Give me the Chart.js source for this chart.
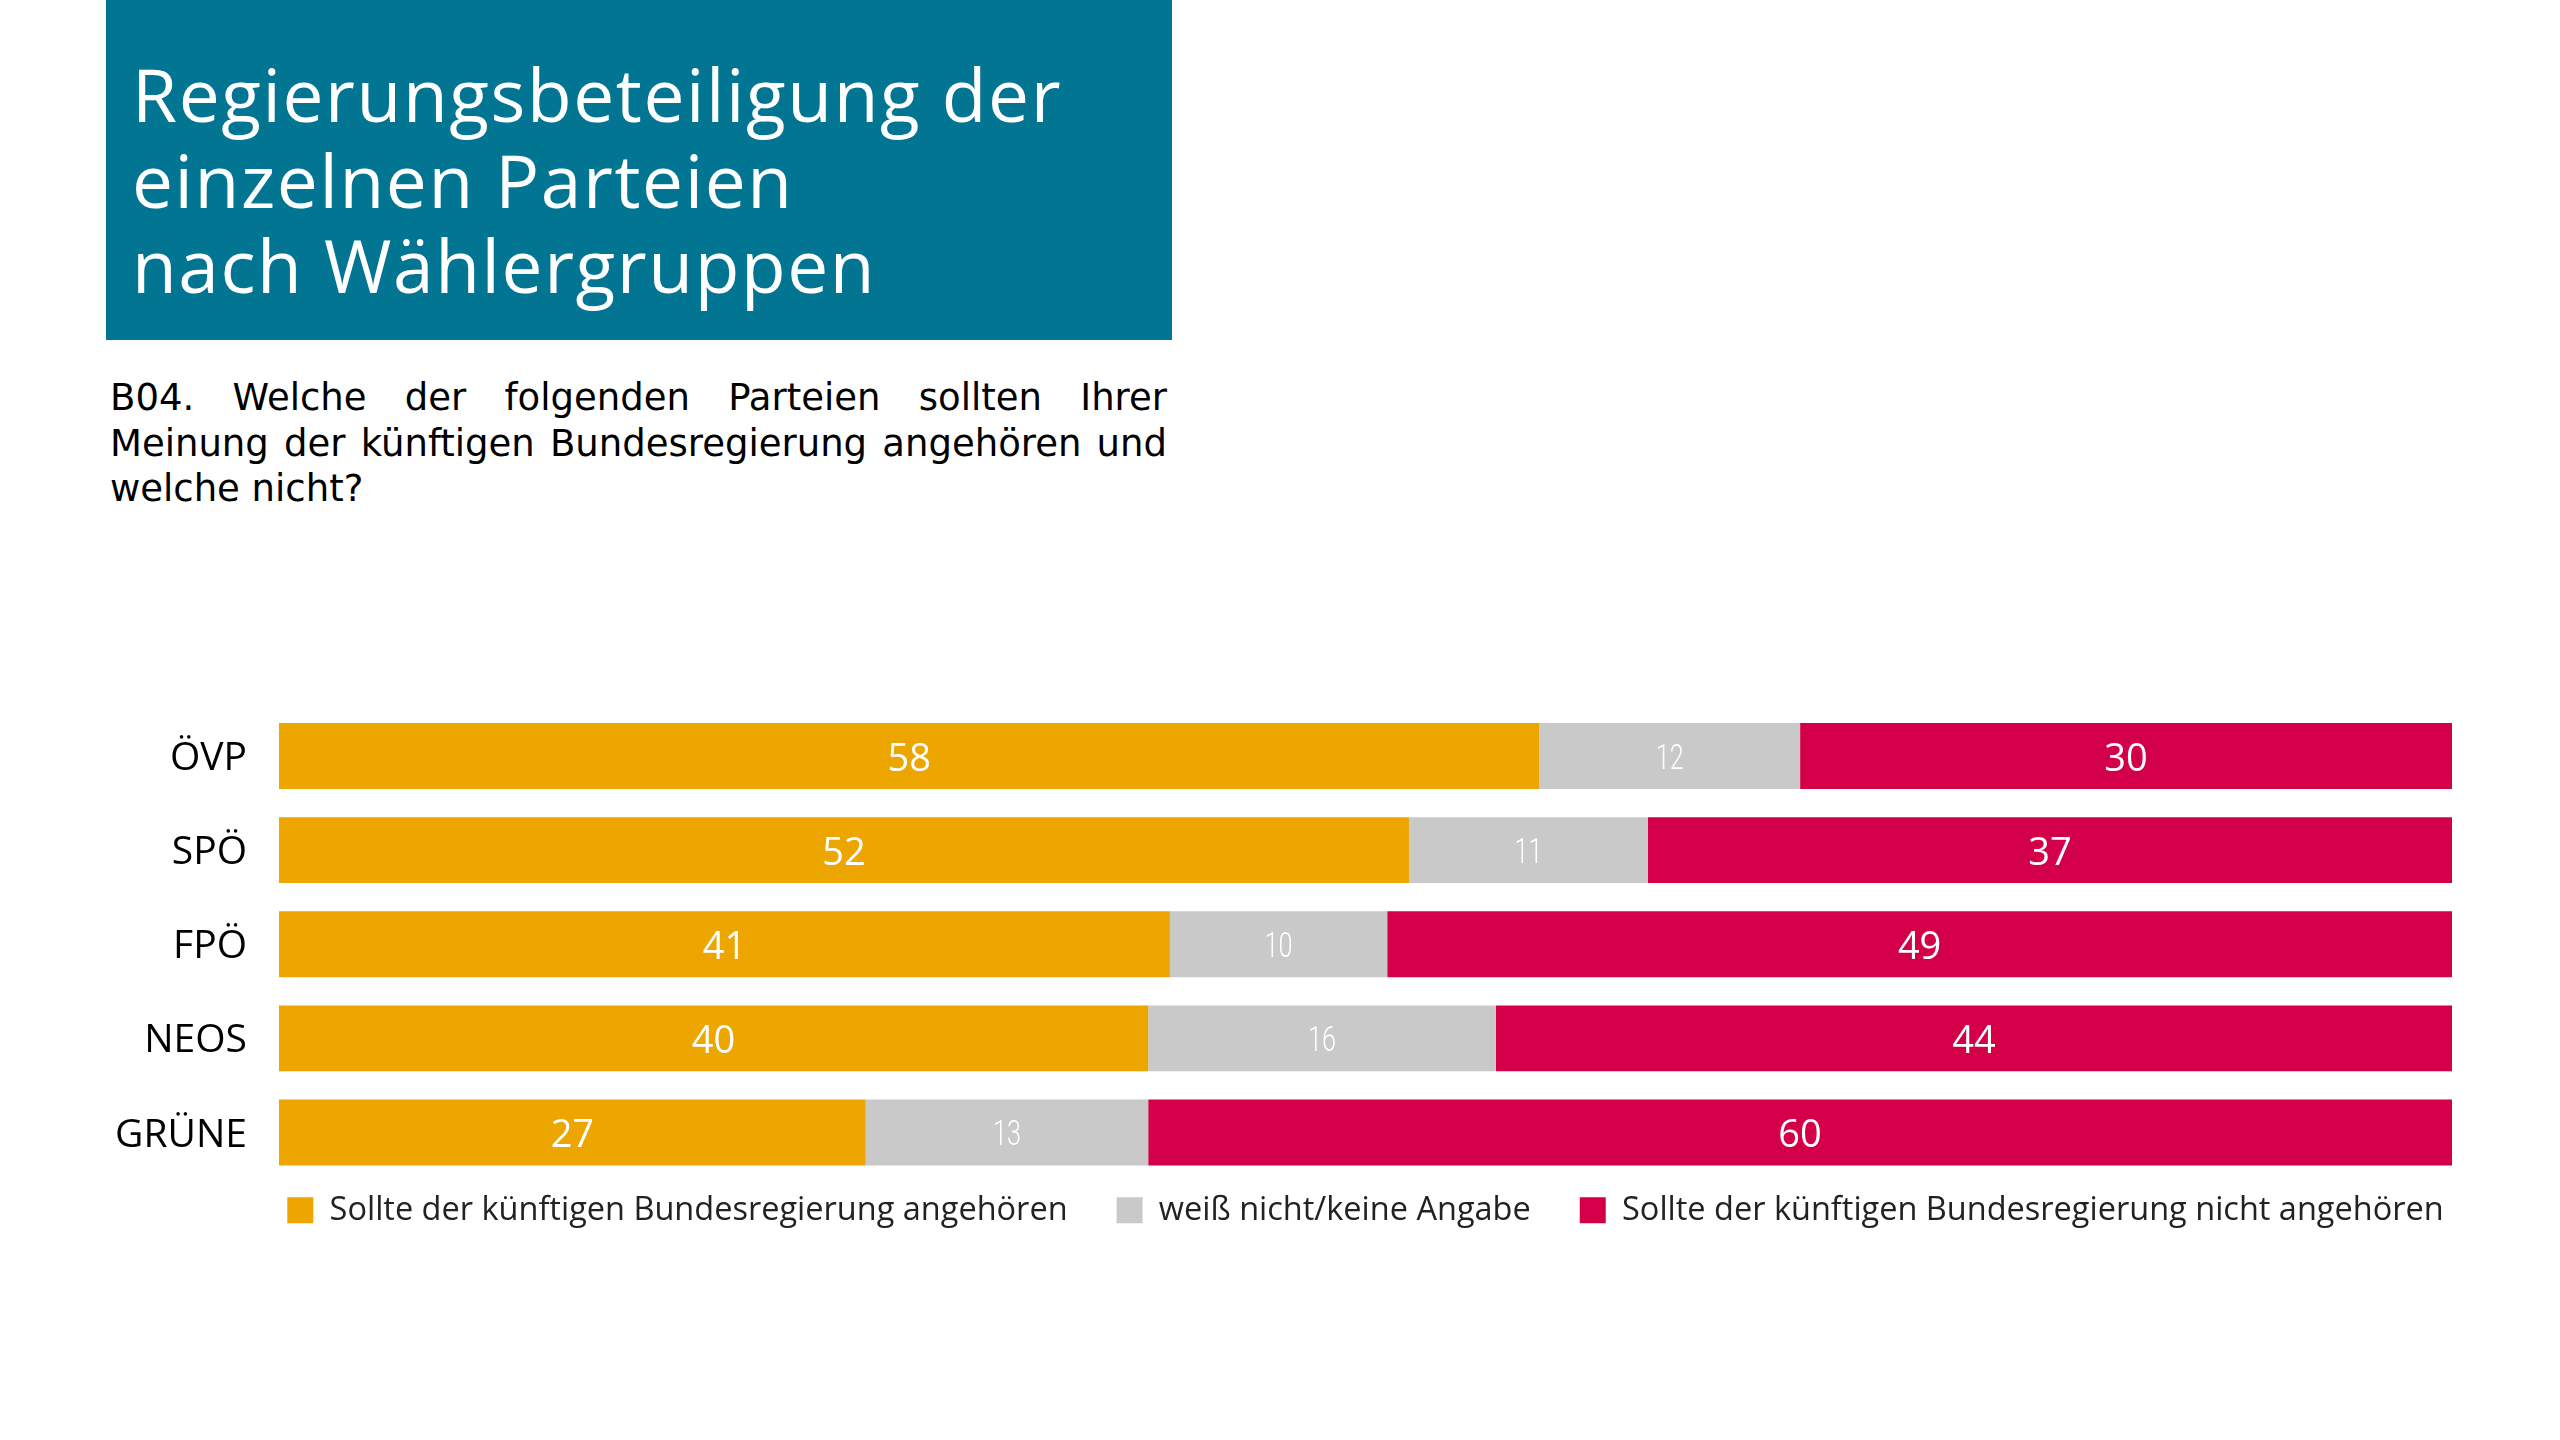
<!DOCTYPE html>
<html><head><meta charset="utf-8">
<script src="https://cdn.jsdelivr.net/npm/chart.js@4/dist/chart.umd.min.js"></script>
<style>
html,body{margin:0;padding:0;background:#fff;width:2560px;height:1440px;overflow:hidden;}
#titlebox{position:absolute;left:106px;top:0;width:1066px;height:340px;background:#017592;}
#title{position:absolute;left:132px;top:51px;color:#fff;font-family:'Open Sans',sans-serif;font-size:73px;line-height:85.5px;letter-spacing:1.6px;white-space:nowrap;}
#question{position:absolute;left:110px;top:375px;width:1057px;font-family:'DejaVu Sans',sans-serif;font-size:37px;line-height:45.5px;color:#000;}
.ql{text-align:justify;text-align-last:justify;white-space:nowrap;}
.ql.last{text-align-last:left;}
#wrap{position:absolute;left:0;top:0;width:2560px;height:1440px;}
</style>
</head><body>
<div id="titlebox"></div>
<div id="title">Regierungsbeteiligung der<br>einzelnen Parteien<br>nach Wählergruppen</div>
<div id="question"><div class="ql">B04. Welche der folgenden Parteien sollten Ihrer</div><div class="ql">Meinung der künftigen Bundesregierung angehören und</div><div class="ql last">welche nicht?</div></div>
<div id="wrap"><canvas id="c" width="2560" height="1440"></canvas></div>
<script>
const categories = ['ÖVP','SPÖ','FPÖ','NEOS','GRÜNE'];
const seriesNames = ['Sollte der künftigen Bundesregierung angehören','weiß nicht/keine Angabe','Sollte der künftigen Bundesregierung nicht angehören'];
const yesValues = [58,52,41,40,27];
const dontKnowValues = [12,11,10,16,13];
const noValues = [30,37,49,44,60];
const seriesColors = ['#EDA500','#C9C9C9','#D30049'];

const valueLabels = {
  id:'valueLabels',
  afterDatasetsDraw(chart){
    const ctx = chart.ctx;
    chart.data.datasets.forEach((ds,i)=>{
      const meta = chart.getDatasetMeta(i);
      meta.data.forEach((bar,j)=>{
        const v = ds.data[j];
        const x = (bar.x + bar.base)/2;
        ctx.save();
        ctx.fillStyle = '#ffffff';
        ctx.textAlign = 'center';
        ctx.textBaseline = 'middle';
        ctx.translate(x, bar.y + 4);
        if (i === 1) {
          ctx.font = '300 35px Roboto, "Open Sans"';
          ctx.scale(0.72, 1);
        } else {
          ctx.font = '400 38px "Open Sans"';
        }
        ctx.fillText(String(v), 0, 0);
        ctx.restore();
      });
    });
  }
};
const legendShift = {
  id:'legendShift',
  afterLayout(chart){
    const l = chart.legend, a = chart.chartArea;
    if (l){
      l.top -= 34.5; l.bottom -= 34.5;
      const dx = (a.left + a.right)/2 - (l.left + l.right)/2;
      l.left += dx; l.right += dx;
    }
  }
};

new Chart(document.getElementById('c'), {
  type:'bar',
  data:{
    labels: categories,
    datasets:[
      {label:seriesNames[0], data:yesValues, backgroundColor:seriesColors[0]},
      {label:seriesNames[1], data:dontKnowValues, backgroundColor:seriesColors[1]},
      {label:seriesNames[2], data:noValues, backgroundColor:seriesColors[2]}
    ].map(d=>Object.assign(d,{barPercentage:0.70,categoryPercentage:1,borderWidth:0}))
  },
  options:{
    indexAxis:'y',
    responsive:false,
    animation:false,
    layout:{padding:{top:709,right:108,left:0,bottom:169}},
    scales:{
      x:{stacked:true,min:0,max:100,display:false},
      y:{stacked:true,grid:{display:false,drawTicks:false},border:{display:false},
         ticks:{padding:32,labelOffset:3,color:'#000',font:{family:'Open Sans',size:39}},
         afterFit(s){ s.width = 279; }}
    },
    plugins:{
      legend:{position:'bottom',fullSize:true,
        labels:{boxWidth:26,boxHeight:26,padding:49,color:'#222',font:{family:'Open Sans',size:32.5}}},
      tooltip:{enabled:false}
    }
  },
  plugins:[valueLabels, legendShift]
});
</script>
</body></html>
